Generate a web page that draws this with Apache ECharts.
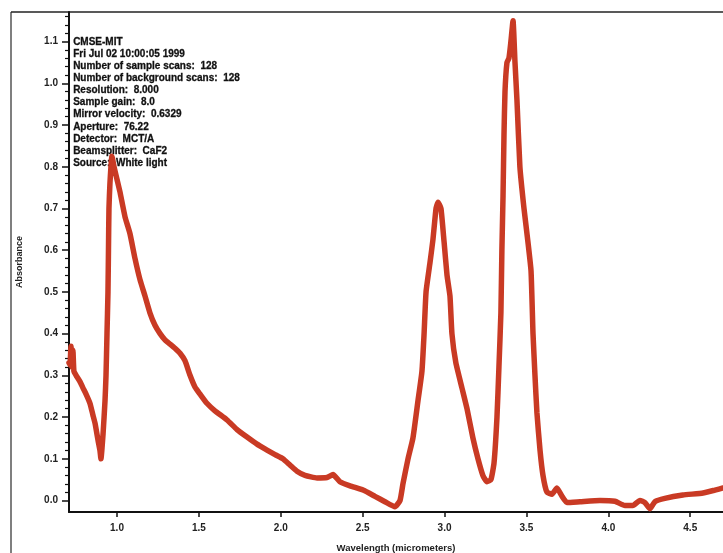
<!DOCTYPE html>
<html>
<head>
<meta charset="utf-8">
<script src="https://cdn.jsdelivr.net/npm/echarts@6/dist/echarts.min.js"></script>
<style>
html,body{margin:0;padding:0;background:#fff;}
#chart{width:723px;height:553px;}
</style>
</head>
<body>
<div id="chart"></div>
<script>
// Wavelength (micrometers)
var wavelength = [0.707,0.713,0.719,0.725,0.731,0.737,0.750,0.774,0.792,0.811,0.835,0.853,0.866,0.884,0.896,0.902,0.915,0.927,0.933,0.939,0.945,0.948,0.951,0.957,0.969,0.982,1.000,1.018,1.049,1.079,1.110,1.140,1.171,1.201,1.232,1.263,1.293,1.324,1.354,1.385,1.415,1.446,1.476,1.507,1.549,1.598,1.672,1.733,1.794,1.855,1.916,1.965,2.013,2.056,2.099,2.148,2.221,2.282,2.319,2.361,2.423,2.502,2.575,2.636,2.697,2.728,2.746,2.777,2.807,2.838,2.862,2.875,2.887,2.911,2.929,2.948,2.960,2.978,2.997,3.015,3.033,3.045,3.069,3.106,3.137,3.173,3.204,3.234,3.259,3.283,3.302,3.320,3.332,3.344,3.350,3.357,3.363,3.369,3.381,3.393,3.405,3.418,3.430,3.442,3.460,3.485,3.509,3.528,3.540,3.552,3.564,3.583,3.601,3.625,3.656,3.686,3.717,3.747,3.827,3.949,4.040,4.101,4.150,4.193,4.223,4.254,4.284,4.345,4.455,4.578,4.651,4.700];
// Absorbance
var absorbance = [0.33,0.325,0.37,0.32,0.36,0.31,0.30,0.285,0.27,0.255,0.233,0.205,0.185,0.145,0.12,0.10,0.16,0.24,0.30,0.40,0.50,0.60,0.70,0.76,0.825,0.80,0.77,0.74,0.68,0.64,0.58,0.53,0.49,0.45,0.42,0.40,0.385,0.375,0.365,0.353,0.335,0.30,0.272,0.255,0.233,0.215,0.193,0.17,0.152,0.135,0.121,0.11,0.10,0.085,0.07,0.06,0.054,0.055,0.062,0.045,0.035,0.025,0.01,-0.003,-0.015,0.0,0.04,0.10,0.15,0.24,0.31,0.40,0.50,0.57,0.625,0.70,0.715,0.70,0.62,0.54,0.49,0.40,0.33,0.27,0.22,0.15,0.10,0.06,0.045,0.05,0.09,0.20,0.32,0.45,0.60,0.73,0.88,0.98,1.05,1.06,1.10,1.15,1.05,0.96,0.80,0.70,0.62,0.55,0.40,0.30,0.21,0.12,0.06,0.02,0.015,0.03,0.01,-0.005,-0.003,0.0,-0.002,-0.012,-0.012,0.0,-0.005,-0.02,-0.003,0.005,0.013,0.018,0.025,0.03];
var xTickValues = [1.0,1.5,2.0,2.5,3.0,3.5,4.0,4.5];
var yTickValues = [0.0,0.1,0.2,0.3,0.4,0.5,0.6,0.7,0.8,0.9,1.0,1.1];
var yMinorTickValues = [0.02,0.04,0.06,0.08,0.12,0.14,0.16,0.18,0.22,0.24,0.26,0.28,0.32,0.34,0.36,0.38,0.42,0.44,0.46,0.48,0.52,0.54,0.56,0.58,0.62,0.64,0.66,0.68,0.72,0.74,0.76,0.78,0.82,0.84,0.86,0.88,0.92,0.94,0.96,0.98,1.02,1.04,1.06,1.08,1.12,1.14,1.16];
var infoLines = ['CMSE-MIT','Fri Jul 02 10:00:05 1999','Number of sample scans:  128','Number of background scans:  128','Resolution:  8.000','Sample gain:  8.0','Mirror velocity:  0.6329','Aperture:  76.22','Detector:  MCT/A','Beamsplitter:  CaF2','Source:  White light'];

var chart = echarts.init(document.getElementById('chart'), null, {renderer:'canvas'});
var data = wavelength.map(function(w,i){return [w, absorbance[i]];});
var yMin = -0.0276, yMax = 1.171;
var labelFont = {fontFamily:'Liberation Sans, Arial, sans-serif', fontWeight:'bold', fontSize:10, color:'#222'};
chart.setOption({
  animation:false,
  backgroundColor:'#ffffff',
  grid:{left:69, top:12, right:0, bottom:41, containLabel:false, outerBoundsMode:'none'},
  xAxis:{
    type:'value', min:0.707, max:4.70,
    name:'Wavelength (micrometers)', nameLocation:'middle', nameGap:31,
    nameTextStyle:{fontFamily:'Liberation Sans, Arial, sans-serif', fontWeight:'bold', fontSize:9.5, color:'#222'},
    axisLine:{show:true, onZero:false, lineStyle:{color:'#111', width:2}},
    axisTick:{show:true, inside:false, length:5, customValues:xTickValues, lineStyle:{color:'#111', width:1.5}},
    axisLabel:Object.assign({margin:11, customValues:xTickValues, formatter:function(v){return v.toFixed(1);}}, labelFont),
    splitLine:{show:false}
  },
  yAxis:[{
    type:'value', min:yMin, max:yMax,
    name:'Absorbance', nameLocation:'middle', nameGap:45, nameRotate:90,
    nameTextStyle:{fontFamily:'Liberation Sans, Arial, sans-serif', fontWeight:'bold', fontSize:9, color:'#222'},
    axisLine:{show:true, onZero:false, lineStyle:{color:'#111', width:2}},
    axisTick:{show:true, inside:false, length:7, customValues:yTickValues, lineStyle:{color:'#111', width:1.5}},
    axisLabel:Object.assign({margin:11, customValues:yTickValues, formatter:function(v){return v.toFixed(1);}}, labelFont),
    splitLine:{show:false}
  },{
    type:'value', min:yMin, max:yMax, position:'left',
    axisLine:{show:false},
    axisTick:{show:true, inside:false, length:4, customValues:yMinorTickValues, lineStyle:{color:'#111', width:1.2}},
    axisLabel:{show:false},
    splitLine:{show:false}
  }],
  graphic:[
    {type:'line', shape:{x1:11, y1:12, x2:11, y2:553}, style:{stroke:'#555', lineWidth:1.5}},
    {type:'line', shape:{x1:11, y1:12, x2:723, y2:12}, style:{stroke:'#222', lineWidth:1.5}},
    {type:'text', left:73, top:36, style:{text:infoLines.join('\n'), fill:'#111', stroke:'#222', lineWidth:0.3, font:'bold 10px "Liberation Sans", Arial, sans-serif', lineHeight:12.1}}
  ],
  series:[{
    type:'line', data:data, showSymbol:false, yAxisIndex:0,
    lineStyle:{color:'#c93a24', width:5.5, join:'round', cap:'round'},
    smooth:0.15
  }]
});
</script>
</body>
</html>
